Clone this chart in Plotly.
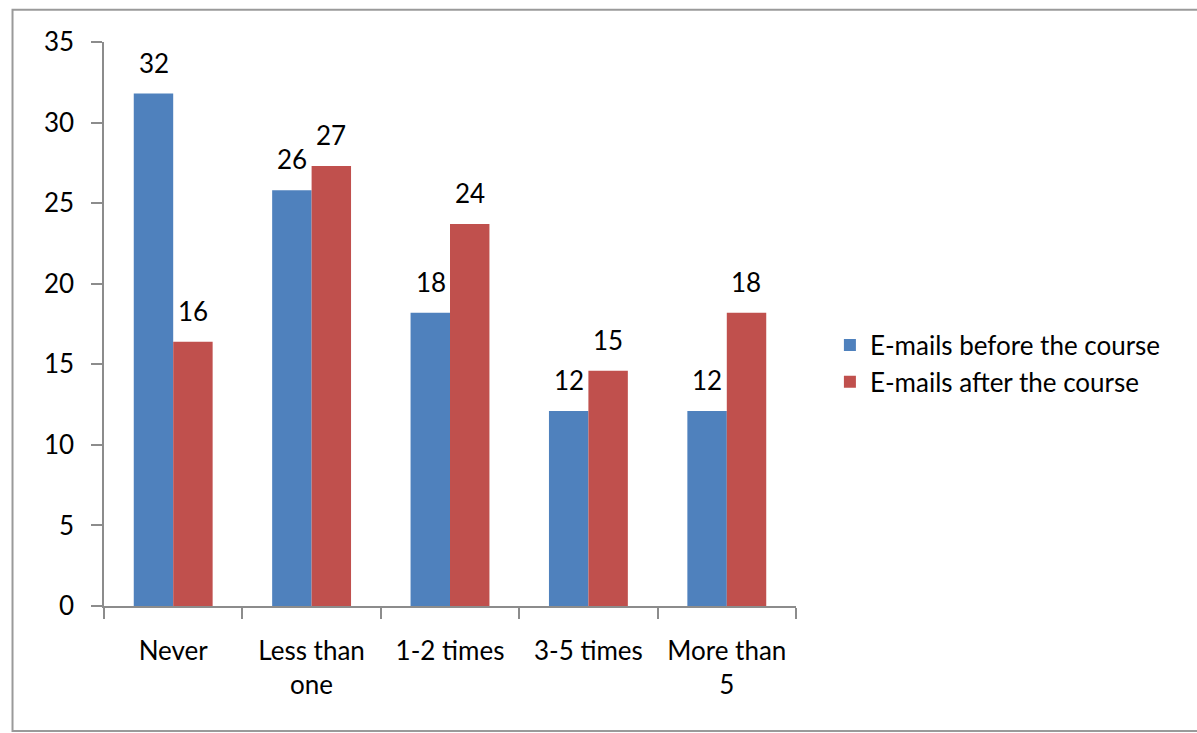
import plotly.graph_objects as go

# Survey responses: how often e-mails are sent, before vs. after the course
categories = ["Never", "Less than one", "1-2 times", "3-5 times", "More than 5"]
tick_text = ["Never", "Less than<br>one", "1-2 times", "3-5 times", "More than<br>5"]
before_course = [31.8, 25.8, 18.2, 12.1, 12.1]
after_course = [16.4, 27.3, 23.7, 14.6, 18.2]
series_names = ["E-mails before the course", "E-mails after the course"]

BLUE = "#4F81BD"
RED = "#C0504D"
FONT = "Lato, Open Sans, sans-serif"
FS = 26

fig = go.Figure()
for name, values, colour in [(series_names[0], before_course, BLUE),
                             (series_names[1], after_course, RED)]:
    fig.add_trace(go.Bar(
        x=categories, y=values, name=name,
        marker=dict(color=colour, line=dict(width=0)),
    ))

# Value labels sit above each bar, rounded to whole numbers
offsets = [-19.5, 19.5]
annotations = []
for values, dx in [(before_course, offsets[0]), (after_course, offsets[1])]:
    for cat, v in zip(categories, values):
        annotations.append(dict(
            x=cat, y=v, xref="x", yref="y", text=f"{v:.0f}",
            showarrow=False, xshift=dx, yshift=31, yanchor="middle",
            font=dict(family=FONT, size=FS, color="#000000"),
        ))

fig.update_layout(
    width=1197, height=733,
    margin=dict(l=104, r=401, t=42, b=127),
    paper_bgcolor="white", plot_bgcolor="white",
    barmode="group", bargap=0.43, bargroupgap=0,
    font=dict(family=FONT, size=FS, color="#000000"),
    showlegend=True,
    legend=dict(x=1.049, y=0.43, xanchor="left", yanchor="middle",
                font=dict(family=FONT, size=FS, color="#000000"),
                bgcolor="rgba(0,0,0,0)"),
    annotations=annotations,
    shapes=[dict(type="rect", xref="paper", yref="paper",
                 x0=-0.1322, x1=1.9, y0=-0.2215, y1=1.057,
                 line=dict(color="#9a9a9a", width=2), layer="below")],
)

fig.update_xaxes(
    tickvals=categories, ticktext=tick_text,
    showline=True, linecolor="#8c8c8c", linewidth=1.5,
    ticks="outside", tickson="boundaries", ticklen=11, tickcolor="#8c8c8c",
    tickwidth=1.5, showgrid=False, zeroline=False,
    ticklabelstandoff=21,
    tickfont=dict(family=FONT, size=FS, color="#000000"),
)
fig.update_yaxes(
    range=[0, 35], tickvals=[0, 5, 10, 15, 20, 25, 30, 35],
    showline=True, linecolor="#8c8c8c", linewidth=1.5,
    ticks="outside", ticklen=11, tickcolor="#8c8c8c", tickwidth=1.5,
    showgrid=False, zeroline=False, ticklabelstandoff=12,
    tickfont=dict(family=FONT, size=FS, color="#000000"),
)

fig.write_html("out.html")
